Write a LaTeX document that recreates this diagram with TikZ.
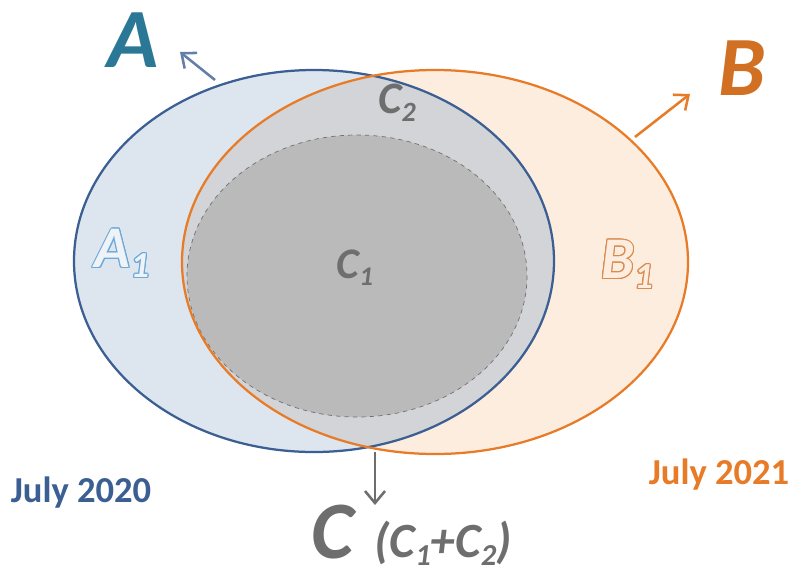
\documentclass[tikz,border=0pt]{standalone}
\usepackage{fontspec}
\setmainfont{Carlito}
\usepackage[copies]{contour}
\contourlength{0.8pt}
\usetikzlibrary{arrows.meta}
\definecolor{blueline}{HTML}{3B5E93}
\definecolor{bluefill}{HTML}{DDE6EE}
\definecolor{orangeline}{HTML}{E87B27}
\definecolor{orangefill}{HTML}{FDEDDF}
\definecolor{bothfill}{HTML}{D2D4D7}
\definecolor{corefill}{HTML}{BABABA}
\definecolor{greytext}{HTML}{6E6E6E}
\definecolor{tealtext}{HTML}{2B7796}
\definecolor{lightblue}{HTML}{6FA8D8}
\definecolor{lightorange}{HTML}{D98C52}
\newcommand\lowidx[1]{\raisebox{-0.35ex}{\scalebox{0.62}{#1}}}
\begin{document}
\begin{tikzpicture}[x=0.025cm, y=-0.025cm, every node/.style={font=\bfseries, inner sep=0pt}]
\tikzset{setline/.style={line width=1.6pt}, tag/.style={line width=1.8pt, -{Straight Barb[length=3mm, width=5mm]}}}
\useasboundingbox (0,0) rectangle (794,573);
% the two sets
\fill[bluefill] (314,261) ellipse [x radius=240, y radius=191];
\fill[orangefill] (435,262) ellipse [x radius=253, y radius=192];
\begin{scope}
\clip (314,261) ellipse [x radius=240, y radius=191];
\fill[bothfill] (435,262) ellipse [x radius=253, y radius=192];
\end{scope}
\draw[corefill!60!black, dashed, line width=0.5pt, fill=corefill] (357,276) ellipse [x radius=170, y radius=141];
\draw[blueline, setline] (314,261) ellipse [x radius=240, y radius=191];
\draw[orangeline, setline] (435,262) ellipse [x radius=253, y radius=192];
% labels
\node[tealtext, font=\fontsize{60}{60}\selectfont\bfseries\itshape] (setA) at (133,40) {A};
\node[orangeline!90!black, font=\fontsize{60}{60}\selectfont\bfseries\itshape] (setB) at (742,68) {B};
\node[greytext, font=\fontsize{32}{32}\selectfont\bfseries\itshape] (partC2) at (397,103) {C\lowidx{2}};
\node[greytext, font=\fontsize{31}{31}\selectfont\bfseries\itshape] (partC1) at (355,268) {C\lowidx{1}};
\node[font=\fontsize{42}{42}\selectfont\bfseries\itshape] (partA1) at (122,254) {\contour{lightblue}{\textcolor{bluefill!50!white}{A\lowidx{1}}}};
\node[font=\fontsize{42}{42}\selectfont\bfseries\itshape] (partB1) at (627,265) {\contour{lightorange}{\textcolor{orangefill}{B\lowidx{1}}}};
\node[greytext, font=\fontsize{58}{58}\selectfont\bfseries\itshape] (setC) at (333,532) {C};
\node[greytext, font=\fontsize{35}{35}\selectfont\bfseries\itshape] (sumC) at (443,543) {(C\lowidx{1}+C\lowidx{2})};
\node[blueline, font=\fontsize{26}{26}\selectfont\bfseries] (yearA) at (81,493) {July 2020};
\node[orangeline, font=\fontsize{26}{26}\selectfont\bfseries] (yearB) at (719,475) {July 2021};
% arrows
\coordinate (aTail) at (215,80); \coordinate (aHead) at (180,52);
\coordinate (bTail) at (635,137); \coordinate (bHead) at (690,94);
\coordinate (cTail) at (375,452); \coordinate (cHead) at (375,505);
\draw[tag, blueline!80!white] (aTail) -- (aHead);
\draw[tag, orangeline] (bTail) -- (bHead);
\draw[tag, greytext] (cTail) -- (cHead);
\end{tikzpicture}
\end{document}
